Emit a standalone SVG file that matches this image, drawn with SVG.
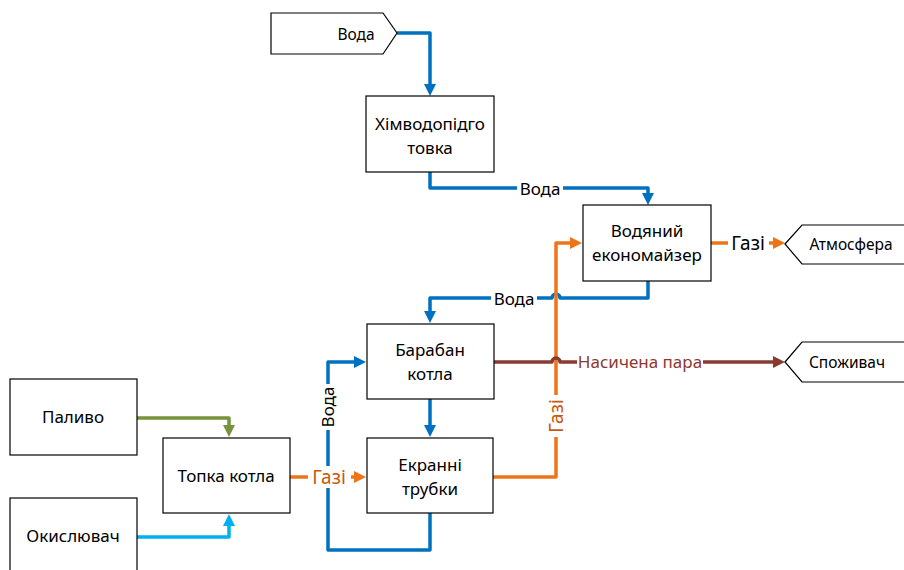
<svg xmlns="http://www.w3.org/2000/svg" width="904" height="570" viewBox="0 0 904 570">
  <style>
    .box { fill: #ffffff; stroke: #000000; stroke-width: 1.2; }
    .txt { font-family: "Noto Sans", "Open Sans", sans-serif; font-size: 17px; fill: #000000; text-anchor: middle; }
    .small { font-size: 15.5px; }
    .gaslbl { font-size: 19px; }
    .ln { fill: none; stroke-width: 3.5; stroke-linejoin: round; }
    .water { stroke: #0070C0; }
    .gas { stroke: #EE7418; }
    .steam { stroke: #8B3A32; }
    .fuel { stroke: #77933C; }
    .oxid { stroke: #00B0F0; }
    .bg { fill: #ffffff; }
  </style>
  <defs>
    <marker id="aWater" viewBox="0 0 12 12" refX="0" refY="6" markerWidth="12" markerHeight="12" markerUnits="userSpaceOnUse" orient="auto">
      <path d="M0,0 L12,6 L0,12 z" fill="#0070C0"/>
    </marker>
    <marker id="aGas" viewBox="0 0 12 12" refX="0" refY="6" markerWidth="12" markerHeight="12" markerUnits="userSpaceOnUse" orient="auto">
      <path d="M0,0 L12,6 L0,12 z" fill="#EE7418"/>
    </marker>
    <marker id="aSteam" viewBox="0 0 12 12" refX="0" refY="6" markerWidth="12" markerHeight="12" markerUnits="userSpaceOnUse" orient="auto">
      <path d="M0,0 L12,6 L0,12 z" fill="#8B3A32"/>
    </marker>
    <marker id="aFuel" viewBox="0 0 12 12" refX="0" refY="6" markerWidth="12" markerHeight="12" markerUnits="userSpaceOnUse" orient="auto">
      <path d="M0,0 L12,6 L0,12 z" fill="#77933C"/>
    </marker>
    <marker id="aOxid" viewBox="0 0 12 12" refX="0" refY="6" markerWidth="12" markerHeight="12" markerUnits="userSpaceOnUse" orient="auto">
      <path d="M0,0 L12,6 L0,12 z" fill="#00B0F0"/>
    </marker>
  </defs>

  <!-- connectors -->
  <g id="connectors">
    <path class="ln water" d="M397,33 H430 V84" marker-end="url(#aWater)"/>
    <path class="ln water" d="M430,172 V188 H648 V193" marker-end="url(#aWater)"/>
    <path class="ln water" d="M648,281 V298 H560 A4,4 0 0 0 552,298 H430 V311" marker-end="url(#aWater)"/>
    <path class="ln water" d="M430,399 V425" marker-end="url(#aWater)"/>
    <path class="ln water" d="M430,513 V550 H328 V362 H354" marker-end="url(#aWater)"/>
    <path class="ln fuel" d="M137,418 H229 V425" marker-end="url(#aFuel)"/>
    <path class="ln oxid" d="M137,537 H229 V526" marker-end="url(#aOxid)"/>
    <path class="ln gas" d="M290,477 H354" marker-end="url(#aGas)"/>
    <path class="ln gas" d="M493,477 H556 V243 H570" marker-end="url(#aGas)"/>
    <path class="ln gas" d="M711,243 H773" marker-end="url(#aGas)"/>
    <path class="ln steam" d="M494,362 H552 A4,4 0 0 1 560,362 H773" marker-end="url(#aSteam)"/>

    <!-- connector labels on white patches -->
    <rect class="bg" x="517" y="179" width="46" height="20"/>
    <text class="txt" x="540" y="195">Вода</text>
    <rect class="bg" x="491" y="289" width="46" height="20"/>
    <text class="txt" x="514" y="305">Вода</text>
    <rect class="bg" x="318" y="384" width="20" height="46"/>
    <text class="txt" transform="translate(334,407) rotate(-90)">Вода</text>
    <rect class="bg" x="728" y="232" width="41" height="22"/>
    <text class="txt gaslbl" x="748" y="250">Газі</text>
    <rect class="bg" x="308" y="466" width="43" height="22"/>
    <text class="txt gaslbl" x="329" y="484" style="fill:#C55A11">Газі</text>
    <rect class="bg" x="545" y="395" width="22" height="42"/>
    <text class="txt gaslbl" transform="translate(563,416) rotate(-90)" style="fill:#C55A11">Газі</text>
    <rect class="bg" x="577" y="352" width="126" height="20"/>
    <text class="txt" x="640" y="368" style="fill:#8B3A32">Насичена пара</text>
  </g>

  <!-- nodes -->
  <g id="water-in">
    <polygon class="box" points="271,13 383,13 397,33 383,54 271,54"/>
    <text class="txt small" x="356" y="40">Вода</text>
  </g>
  <g id="chem-treatment">
    <rect class="box" x="366" y="96" width="128" height="76"/>
    <text class="txt" x="430" y="130">Хімводопідго</text>
    <text class="txt" x="430" y="154">товка</text>
  </g>
  <g id="economizer">
    <rect class="box" x="583" y="205" width="128" height="76"/>
    <text class="txt" x="647" y="237">Водяний</text>
    <text class="txt" x="647" y="261">економайзер</text>
  </g>
  <g id="atmosphere">
    <polygon class="box" points="785,244 802,225 910,225 910,264 802,264"/>
    <text class="txt small" x="851" y="250">Атмосфера</text>
  </g>
  <g id="drum">
    <rect class="box" x="367" y="324" width="127" height="75"/>
    <text class="txt" x="430" y="356">Барабан</text>
    <text class="txt" x="430" y="380">котла</text>
  </g>
  <g id="consumer">
    <polygon class="box" points="785,362 802,342 910,342 910,382 802,382"/>
    <text class="txt small" x="847" y="368">Споживач</text>
  </g>
  <g id="screen-tubes">
    <rect class="box" x="367" y="438" width="126" height="75"/>
    <text class="txt" x="430" y="471">Екранні</text>
    <text class="txt" x="430" y="495">трубки</text>
  </g>
  <g id="furnace">
    <rect class="box" x="163" y="438" width="127" height="75"/>
    <text class="txt" x="226" y="482">Топка котла</text>
  </g>
  <g id="fuel">
    <rect class="box" x="10" y="379" width="127" height="76"/>
    <text class="txt" x="73" y="423">Паливо</text>
  </g>
  <g id="oxidizer">
    <rect class="box" x="10" y="498" width="127" height="90"/>
    <text class="txt" x="73" y="542">Окислювач</text>
  </g>
</svg>
